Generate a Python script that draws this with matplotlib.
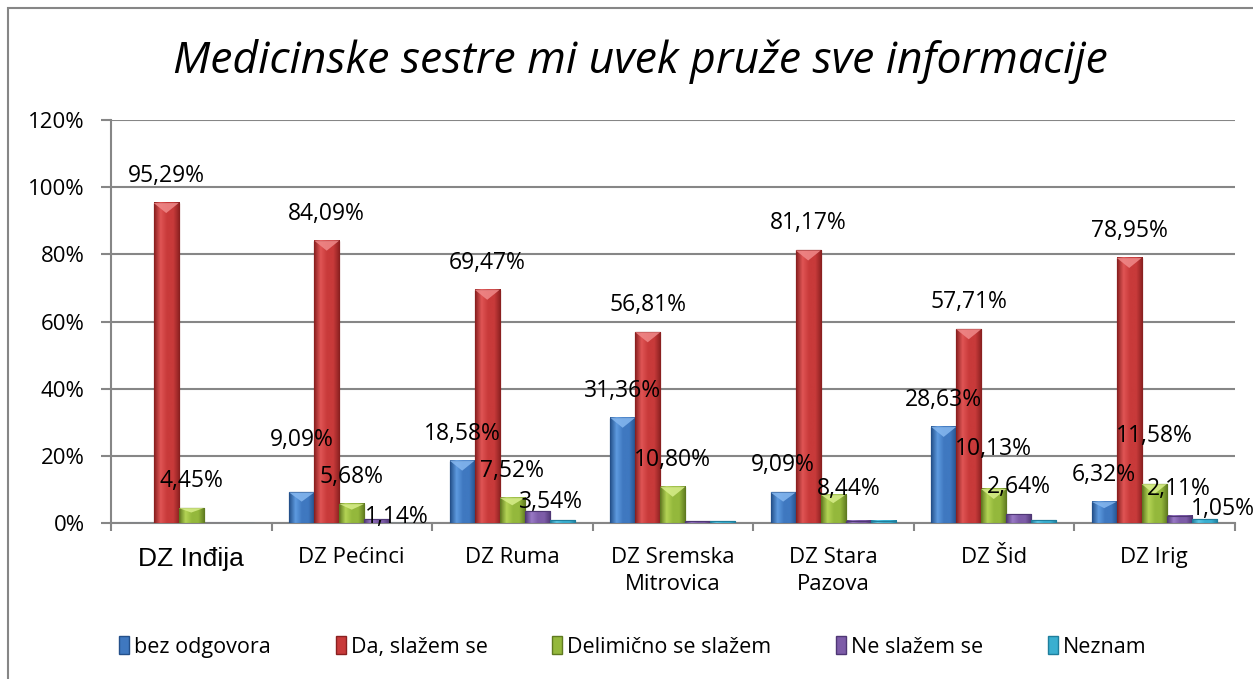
import numpy as np
import matplotlib
matplotlib.use('Agg')
import matplotlib.pyplot as plt
from matplotlib.colors import LinearSegmentedColormap
from matplotlib.patches import Patch, Polygon, Rectangle

plt.rcParams['font.family'] = ['Open Sans', 'DejaVu Sans']

# data (percent)
categories = ['DZ Inđija', 'DZ Pećinci', 'DZ Ruma', 'DZ Sremska\nMitrovica',
              'DZ Stara\nPazova', 'DZ Šid', 'DZ Irig']
series_names = ['bez odgovora', 'Da, slažem se', 'Delimično se slažem',
                'Ne slažem se', 'Neznam']
bez_odgovora = [0, 9.09, 18.58, 31.36, 9.09, 28.63, 6.32]
da_slazem = [95.29, 84.09, 69.47, 56.81, 81.17, 57.71, 78.95]
delimicno = [4.45, 5.68, 7.52, 10.80, 8.44, 10.13, 11.58]
ne_slazem = [0, 1.14, 3.54, 0.52, 0.65, 2.64, 2.11]
neznam = [0, 0, 0.88, 0.51, 0.65, 0.88, 1.05]
series = [bez_odgovora, da_slazem, delimicno, ne_slazem, neznam]
yticks = [0, 20, 40, 60, 80, 100, 120]

# (dark, light, base, top bevel)
palette = [
    ('#24508A', '#5E9BE0', '#3F78C0', '#86B8F0'),
    ('#8A2020', '#E05555', '#C83A3A', '#F08A8A'),
    ('#5F7A20', '#B4D455', '#94B83C', '#D8EE8A'),
    ('#4F3775', '#9A7AC6', '#7D5CA8', '#BBA2E0'),
    ('#1F7E9C', '#5CC8E6', '#3AAFD0', '#8EE0F4'),
]

# Excel moved a few labels around to avoid overlaps (dx, dy in pixels)
nudges = {(1, 0): (0, 25), (1, 3): (20, -25), (2, 3): (14, -18),
          (4, 2): (15, -21), (5, 2): (0, 13), (6, 2): (0, 21), (6, 4): (19, -17)}

W, H = 1253, 679
fig = plt.figure(figsize=(W / 100, H / 100), dpi=100)
ax = fig.add_axes([111 / W, 1 - 523 / H, (1234.5 - 111) / W, (523 - 120) / H])

# outer chart border
fig.patches.append(Rectangle((8 / W, -0.05), 1.2, 1 - 8 / H + 0.05, transform=fig.transFigure,
                             fill=False, edgecolor='#868686', linewidth=1.5))

x = np.arange(len(categories))
width = 0.156
grad = np.linspace(0, 1, 64).reshape(1, -1)

for s, vals in enumerate(series):
    dark, light, base, top = palette[s]
    cmap = LinearSegmentedColormap.from_list('b%d' % s, [dark, light, base, base, dark])
    pos = x + (s - 2) * width
    bars = ax.bar(pos, vals, width, color=base, edgecolor=dark, linewidth=0.8, zorder=3)
    for i, b in enumerate(bars):
        h = b.get_height()
        if h <= 0:
            continue
        x0 = b.get_x()
        x1 = x0 + b.get_width()
        ax.imshow(grad, extent=(x0, x1, 0, h), aspect='auto', cmap=cmap, zorder=3.5)
        ax.add_patch(Rectangle((x0, 0), x1 - x0, h, fill=False, edgecolor=dark,
                               linewidth=0.8, zorder=4))
        if h > 4:
            bev = min(3.0, h * 0.3)
            ax.add_patch(Polygon([(x0, h), (x1, h), ((x0 + x1) / 2, h - bev)],
                                 closed=True, facecolor=top, edgecolor='none',
                                 alpha=0.85, zorder=4.5))
        if h >= 1:
            dx, dy = nudges.get((i, s), (0, 0))
            ax.annotate(('%.2f%%' % h).replace('.', ','), (x0 + (x1 - x0) / 2, h),
                        xytext=(dx, 27 + dy), textcoords='offset pixels',
                        ha='center', va='center', fontsize=16.5, color='black', zorder=6)

ax.set_xlim(-0.5, len(categories) - 0.5)
ax.set_ylim(0, 120)
ax.set_yticks(yticks)
ax.set_yticklabels(['%d%%' % t for t in yticks], fontsize=16)
ax.yaxis.grid(True, color='#868686', linewidth=1.5)
ax.set_axisbelow(True)

ax.set_xticks(np.arange(len(categories) + 1) - 0.5)
ax.set_xticklabels([])
ax.set_xticks(x, minor=True)
ax.set_xticklabels(categories, minor=True, fontsize=16, linespacing=1.4)
ax.tick_params(axis='x', which='major', direction='out', length=6, width=1.5, color='#868686')
ax.tick_params(axis='x', which='minor', length=0, pad=17)
ax.tick_params(axis='y', direction='out', length=7, width=1.5, color='#868686', pad=12)
lab0 = ax.get_xticklabels(minor=True)[0]
lab0.set_fontfamily(['Liberation Sans', 'DejaVu Sans'])
lab0.set_fontsize(19)

for side in ['top', 'right']:
    ax.spines[side].set_visible(False)
for side in ['left', 'bottom']:
    ax.spines[side].set_color('#868686')
    ax.spines[side].set_linewidth(1.5)

fig.text(640 / W, 1 - 62 / H, 'Medicinske sestre mi uvek pruže sve informacije',
         ha='center', va='center', fontsize=32, style='italic')

handles = [Patch(facecolor=palette[k][2], edgecolor=palette[k][0], label=series_names[k])
           for k in range(len(series_names))]
fig.legend(handles=handles, loc='center', bbox_to_anchor=(633 / W, 1 - 647 / H), ncol=5,
           frameon=False, fontsize=15.5, handlelength=0.45, handleheight=0.9,
           handletextpad=0.25, columnspacing=3.0)

fig.savefig('out.png', dpi=100)
